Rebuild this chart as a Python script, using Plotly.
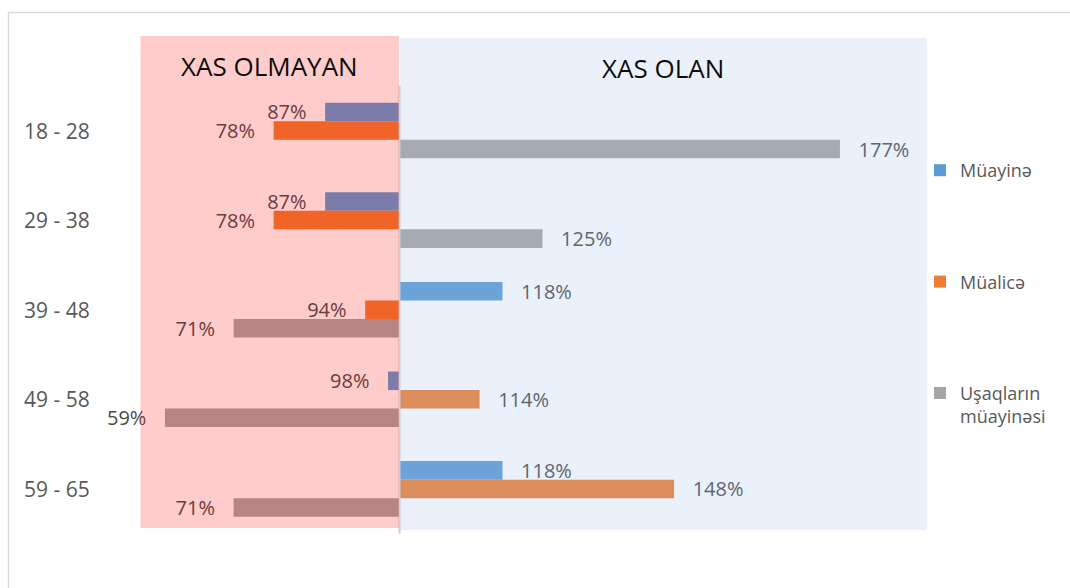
import plotly.graph_objects as go

# ---- data ----
CATEGORIES = ["18 - 28", "29 - 38", "39 - 48", "49 - 58", "59 - 65"]
SERIES_NAMES = ["Müayinə", "Müalicə", "Uşaqların<br>müayinəsi"]
MUAYINE = [87, 87, 118, 98, 118]
MUALICE = [78, 78, 94, 114, 148]
USAQ = [177, 125, 71, 59, 71]
BASE = 100
LEFT_TITLE = "XAS OLMAYAN"
RIGHT_TITLE = "XAS OLAN"

# ---- styling / layout constants ----
W, H = 1070, 588
COLORS = ["#5B9BD5", "#ED7D31", "#A5A5A5"]
FONT = "Open Sans"
PX_PER_UNIT = 5.72
BASE_PX = 399.5
CAT0_PX = 130.5
CAT_STEP = 89.6

xr = [BASE - BASE_PX / PX_PER_UNIT, BASE + (W - BASE_PX) / PX_PER_UNIT]
yr = [(H - CAT0_PX) / CAT_STEP, -CAT0_PX / CAT_STEP]

GAP = "\u00a0\u00a0\u00a0"

fig = go.Figure()
for name, vals, col in zip(SERIES_NAMES, [MUAYINE, MUALICE, USAQ], COLORS):
    texts = [(GAP + f"{v}%") if v >= BASE else (f"{v}%" + GAP) for v in vals]
    fig.add_trace(go.Bar(
        y=CATEGORIES, x=[v - BASE for v in vals], base=BASE,
        orientation="h", name=name, legendgroup=name,
        marker=dict(color=col, line=dict(width=0)),
        text=texts, textposition="outside", cliponaxis=False,
        constraintext="none",
        textfont=dict(family=FONT, size=20, color="#4a4a4a"),
    ))

def px_x(p):
    return p / W

def px_y(p):
    return 1 - p / H

shapes = [
    # outer frame (top & left edges visible)
    dict(type="rect", xref="paper", yref="paper", x0=px_x(8.5), x1=px_x(W + 20),
         y0=px_y(H + 20), y1=px_y(12.5), line=dict(color="#D9D9D9", width=1.5),
         fillcolor="rgba(0,0,0,0)", layer="below"),
    # baseline axis line
    dict(type="line", xref="x", yref="y", x0=BASE, x1=BASE, y0=-0.5, y1=4.5,
         line=dict(color="#D0D0D0", width=2), layer="above"),
    # pink overlay
    dict(type="rect", xref="paper", yref="paper", x0=px_x(140.5), x1=px_x(399),
         y0=px_y(528), y1=px_y(36), line=dict(width=0),
         fillcolor="rgba(255,0,0,0.2)", layer="above"),
    # blue overlay
    dict(type="rect", xref="paper", yref="paper", x0=px_x(400), x1=px_x(927),
         y0=px_y(530), y1=px_y(38), line=dict(width=0),
         fillcolor="rgba(165,195,233,0.23)", layer="above"),
]

annotations = [
    dict(text=LEFT_TITLE, xref="paper", yref="paper", x=px_x(270), y=px_y(66),
         showarrow=False, font=dict(family=FONT, size=26, color="#0D0D0D"),
         xanchor="center", yanchor="middle"),
    dict(text=RIGHT_TITLE, xref="paper", yref="paper", x=px_x(663), y=px_y(68),
         showarrow=False, font=dict(family=FONT, size=26, color="#0D0D0D"),
         xanchor="center", yanchor="middle"),
]
for c in CATEGORIES:
    annotations.append(dict(text=c, xref="paper", yref="y", x=px_x(22), y=c,
                            showarrow=False, xanchor="left", yanchor="middle",
                            font=dict(family=FONT, size=21, color="#595959")))

fig.update_layout(
    width=W, height=H,
    margin=dict(l=0, r=0, t=0, b=0),
    paper_bgcolor="white", plot_bgcolor="rgba(0,0,0,0)",
    barmode="group", bargap=0.38, bargroupgap=0,
    xaxis=dict(range=xr, visible=False, showgrid=False, zeroline=False),
    yaxis=dict(type="category", categoryorder="array", categoryarray=CATEGORIES,
               range=yr, visible=False, showgrid=False),
    shapes=shapes, annotations=annotations,
    showlegend=True,
    legend=dict(x=px_x(920), y=px_y(152), xanchor="left", yanchor="top",
                font=dict(family=FONT, size=18, color="#595959"),
                tracegroupgap=85, valign="top", bgcolor="rgba(0,0,0,0)",
                itemclick=False),
    font=dict(family=FONT),
)

fig.write_html("out.html", config={"displayModeBar": False},
               post_script="document.body.style.margin='0px';")
